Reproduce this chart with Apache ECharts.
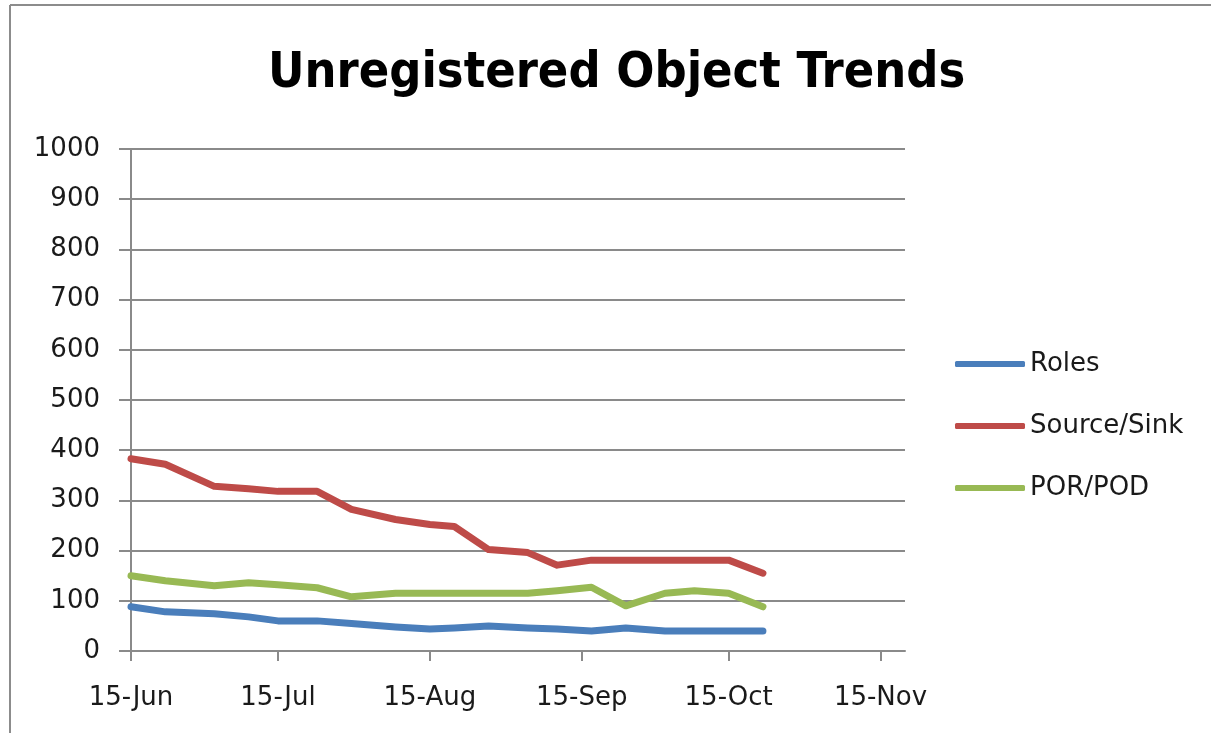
<!DOCTYPE html>
<html>
<head>
<meta charset="utf-8">
<script src="https://cdn.jsdelivr.net/npm/echarts@6/dist/echarts.min.js"></script>
<style>
html,body{margin:0;padding:0;background:#fff;}
#chart{width:1211px;height:733px;}
</style>
</head>
<body>
<div id="chart"></div>
<script>
var dates = ['2013-06-15','2013-06-22','2013-07-02','2013-07-09','2013-07-15','2013-07-23','2013-07-30','2013-08-08','2013-08-15','2013-08-20','2013-08-27','2013-09-04','2013-09-10','2013-09-17','2013-09-24','2013-10-02','2013-10-08','2013-10-15','2013-10-22'];
var roles =      [88, 78, 74, 68, 60, 60, 55, 48, 44, 46, 50, 46, 44, 40, 46, 40, 40, 40, 40];
var sourceSink = [383, 372, 328, 323, 318, 318, 282, 262, 252, 248, 202, 196, 171, 181, 181, 181, 181, 181, 155];
var porPod =     [150, 140, 130, 136, 132, 126, 108, 115, 115, 115, 115, 115, 120, 127, 90, 115, 120, 115, 88];
var seriesNames = ['Roles', 'Source/Sink', 'POR/POD'];
var tickDates = ['2013-06-15','2013-07-15','2013-08-15','2013-09-15','2013-10-15','2013-11-15'];
var tickLabels = ['15-Jun','15-Jul','15-Aug','15-Sep','15-Oct','15-Nov'];
var axisMin = '2013-06-15', axisMax = '2013-11-20';
var yTicks = [0,100,200,300,400,500,600,700,800,900,1000];

var DAY = 86400000;
function dayNum(s){ var p = s.split('-'); return Math.round(Date.UTC(+p[0], +p[1]-1, +p[2]) / DAY); }
var tickDays = tickDates.map(dayNum);
function pairs(vals){ return dates.map(function(d,i){ return [dayNum(d), vals[i]]; }); }

var font = 'DejaVu Sans';
var gridColor = '#8a8a8a';
var colors = ['#4A7EBB', '#BE4B48', '#98B954'];

var chart = echarts.init(document.getElementById('chart'));
chart.setOption({
  animation: false,
  color: colors,
  title: {
    text: 'Unregistered Object Trends',
    left: 268,
    top: 49,
    padding: 0,
    textStyle: {fontFamily: 'DejaVu Sans Condensed', fontWeight: 'bold', fontSize: 50, color: '#000'}
  },
  graphic: [
    {type: 'line', shape: {x1: 10, y1: 5, x2: 1211, y2: 5}, style: {stroke: '#8c8c8c', lineWidth: 2}},
    {type: 'line', shape: {x1: 10, y1: 5, x2: 10, y2: 733}, style: {stroke: '#8c8c8c', lineWidth: 2}}
  ],
  legend: {
    orient: 'vertical',
    left: 955,
    top: 351,
    padding: 0,
    itemWidth: 70,
    itemHeight: 6,
    itemGap: 36,
    icon: 'roundRect',
    textStyle: {fontFamily: font, fontSize: 26, color: '#1a1a1a', lineHeight: 26},
    data: seriesNames
  },
  grid: {left: 131, right: 306, top: 149, bottom: 82, containLabel: false},
  xAxis: {
    type: 'value',
    min: dayNum(axisMin),
    max: dayNum(axisMax),
    axisLine: {show: true, onZero: false, lineStyle: {color: gridColor, width: 2}},
    axisTick: {show: true, customValues: tickDays, length: 10, lineStyle: {color: gridColor, width: 2}},
    splitLine: {show: false},
    axisLabel: {
      customValues: tickDays,
      margin: 34,
      fontFamily: font, fontSize: 26, color: '#1a1a1a',
      formatter: function(v){ var i = tickDays.indexOf(v); return i >= 0 ? tickLabels[i] : ''; }
    }
  },
  yAxis: {
    type: 'value',
    min: yTicks[0],
    max: yTicks[yTicks.length-1],
    interval: 100,
    axisLine: {show: true, lineStyle: {color: gridColor, width: 2}},
    axisTick: {show: true, inside: false, length: 12, lineStyle: {color: gridColor, width: 2}},
    splitLine: {show: true, lineStyle: {color: gridColor, width: 2}},
    axisLabel: {margin: 31, fontFamily: font, fontSize: 26, color: '#1a1a1a', formatter: function(v){ return String(v); }}
  },
  series: [
    {name: seriesNames[0], type: 'line', data: pairs(roles), symbol: 'none', lineStyle: {width: 7, cap: 'round', join: 'round'}},
    {name: seriesNames[1], type: 'line', data: pairs(sourceSink), symbol: 'none', lineStyle: {width: 7, cap: 'round', join: 'round'}},
    {name: seriesNames[2], type: 'line', data: pairs(porPod), symbol: 'none', lineStyle: {width: 7, cap: 'round', join: 'round'}}
  ]
});
</script>
</body>
</html>
